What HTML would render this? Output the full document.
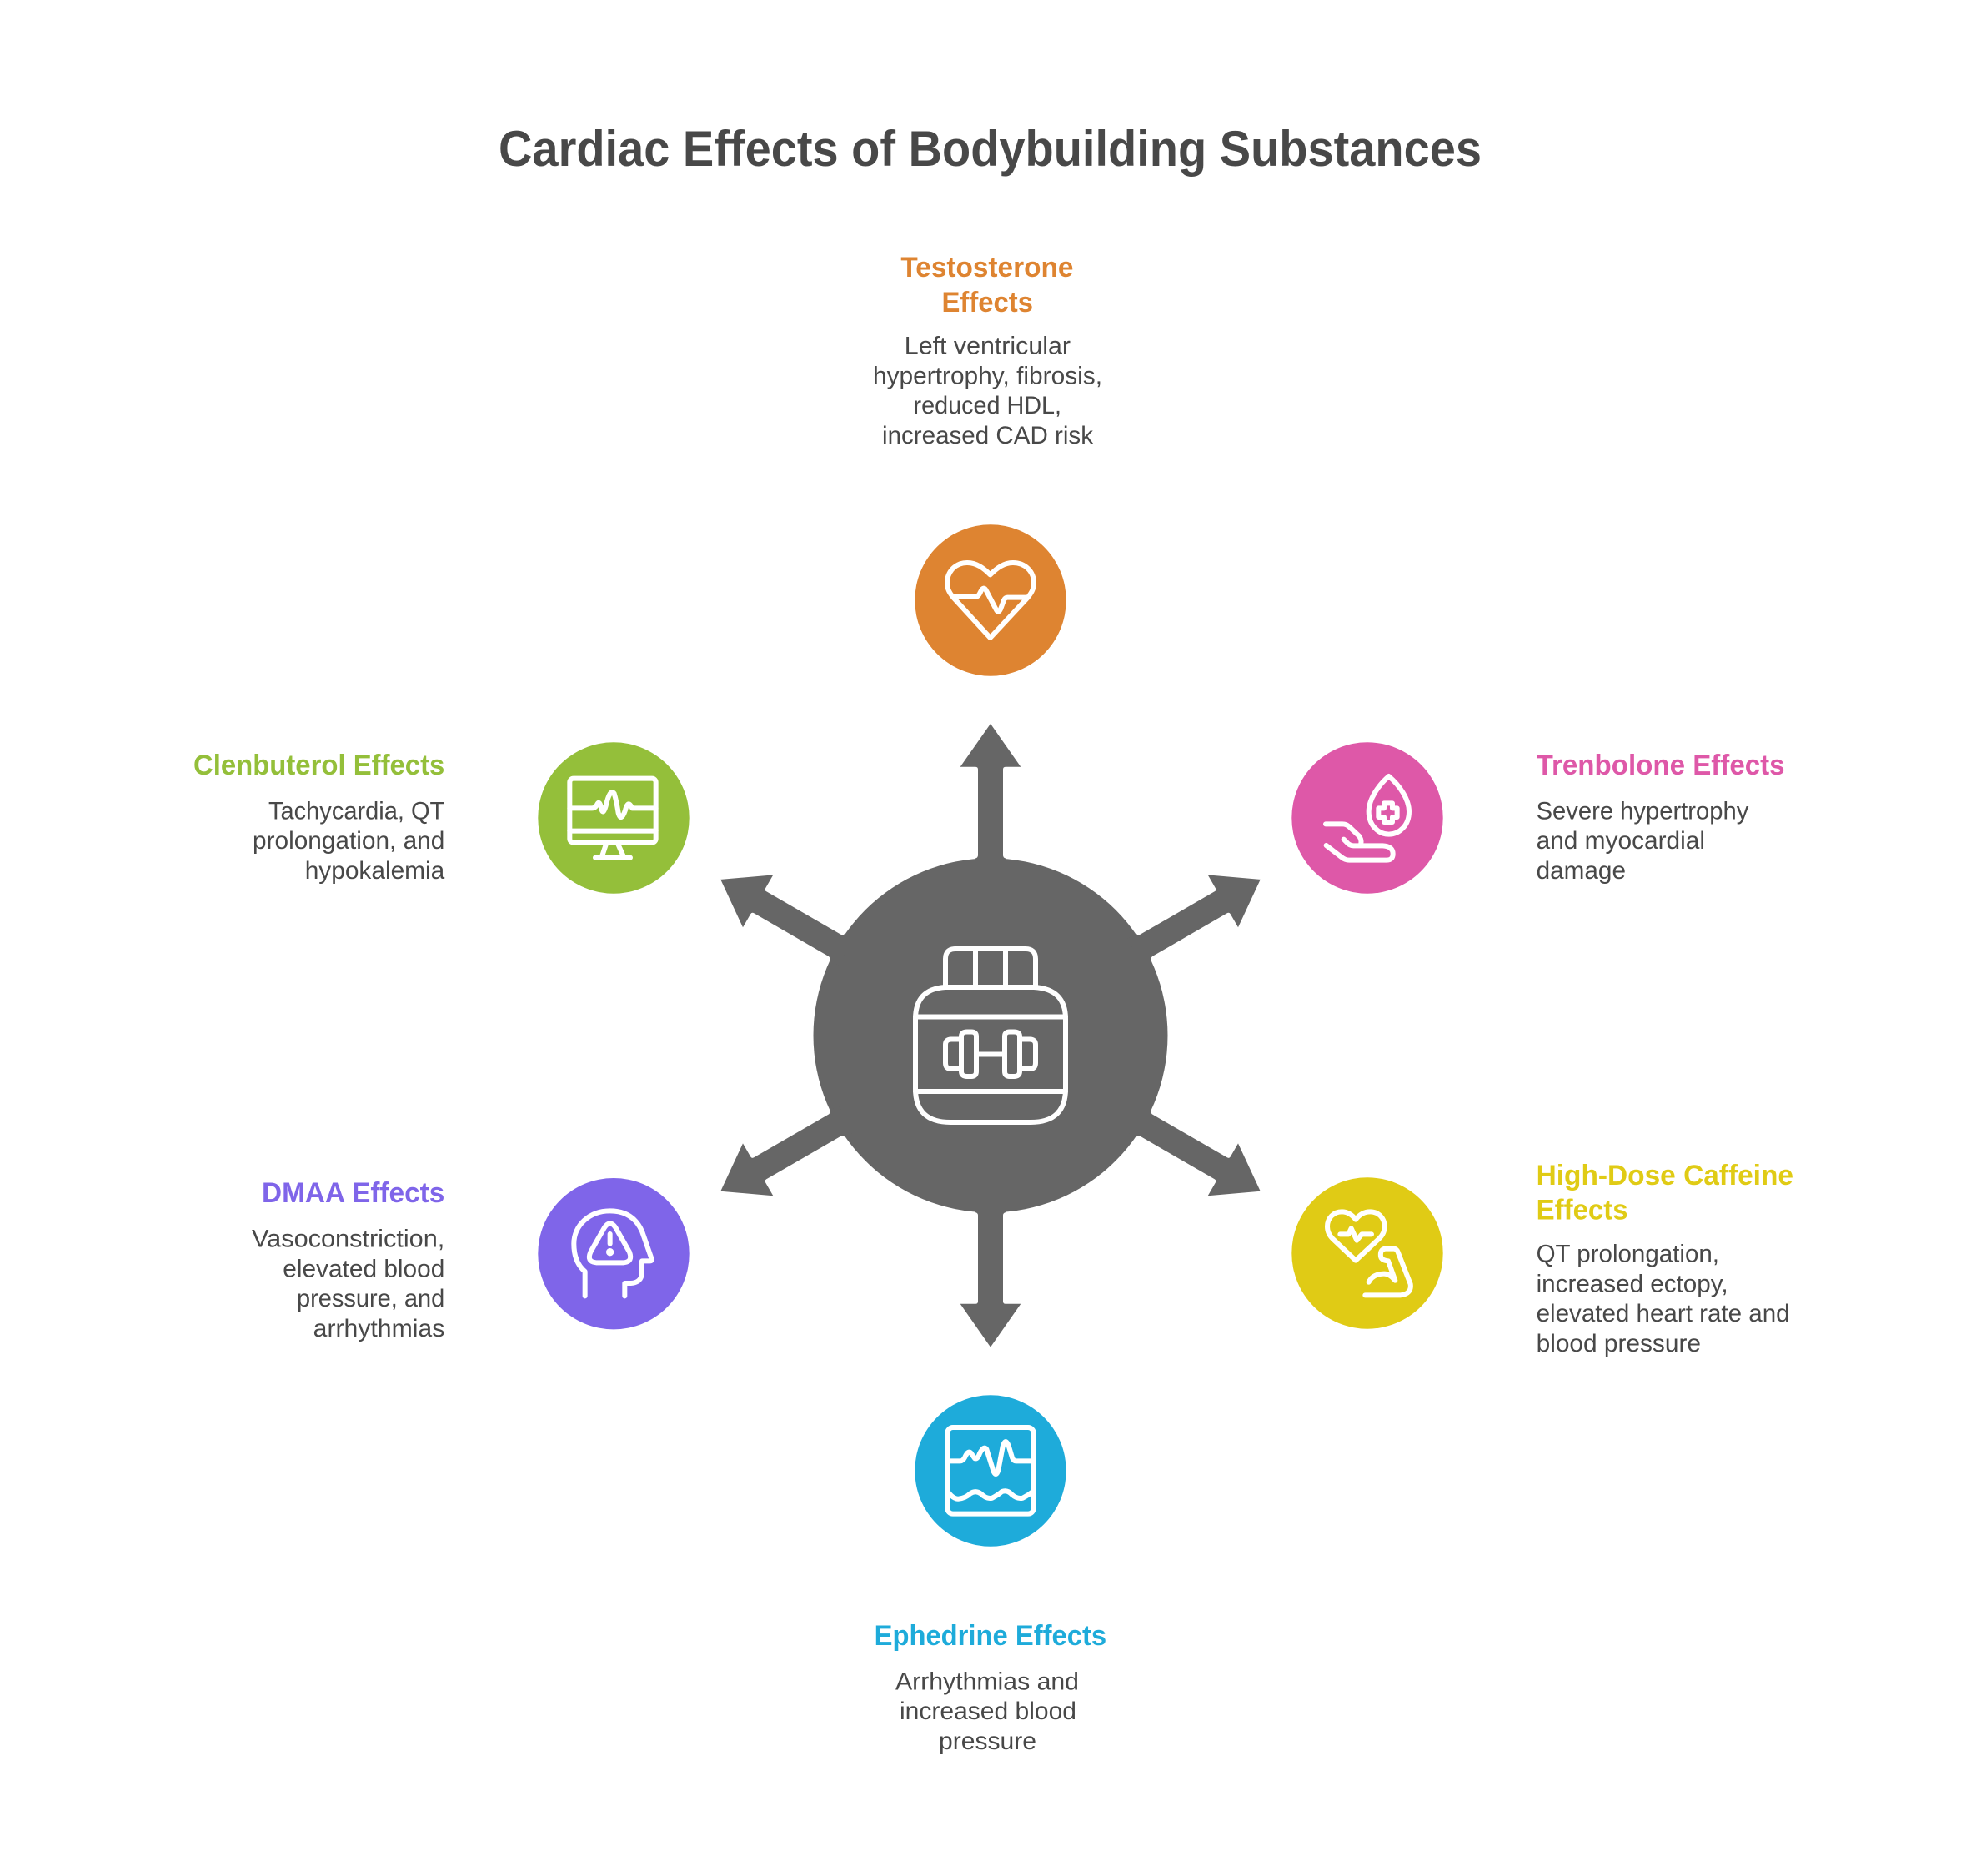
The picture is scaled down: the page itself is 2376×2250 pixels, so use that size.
<!DOCTYPE html>
<html lang="en">
<head>
<meta charset="utf-8">
<title>Cardiac Effects of Bodybuilding Substances</title>
<style>
html,body{margin:0;padding:0;background:#fff;width:2376px;height:2250px;overflow:hidden}
svg{display:block}
text{font-family:"Liberation Sans",sans-serif}
.t{font-size:60px;font-weight:700;fill:#484848}
.h{font-size:34px;font-weight:700}
.b{font-size:30px;fill:#484848}
.i{fill:none;stroke:#fff;stroke-width:18;stroke-linecap:round;stroke-linejoin:round}
.c{fill:none;stroke:#fff;stroke-width:6;stroke-linecap:round;stroke-linejoin:round}
</style>
</head>
<body>
<svg xmlns="http://www.w3.org/2000/svg" width="2376" height="2250" viewBox="0 0 2376 2250">
<rect width="2376" height="2250" fill="#fff"/>

<text class="t" x="598" y="199" textLength="1179" lengthAdjust="spacingAndGlyphs">Cardiac Effects of Bodybuilding Substances</text>

<!-- center hub -->
<g fill="#666666" transform="translate(1188 1241.8)">
<circle r="212.5"/>
<path d="M-36.3 -322H-18Q-15 -322 -15 -319V-216Q-15 -212.8 -18.5 -212.2L-18.5 -200H18.5L18.5 -212.2Q15 -212.8 15 -216V-319Q15 -322 18 -322H36.3L0 -373.8Z"/>
<path transform="rotate(60)" d="M-36.3 -322H-18Q-15 -322 -15 -319V-216Q-15 -212.8 -18.5 -212.2L-18.5 -200H18.5L18.5 -212.2Q15 -212.8 15 -216V-319Q15 -322 18 -322H36.3L0 -373.8Z"/>
<path transform="rotate(120)" d="M-36.3 -322H-18Q-15 -322 -15 -319V-216Q-15 -212.8 -18.5 -212.2L-18.5 -200H18.5L18.5 -212.2Q15 -212.8 15 -216V-319Q15 -322 18 -322H36.3L0 -373.8Z"/>
<path transform="rotate(180)" d="M-36.3 -322H-18Q-15 -322 -15 -319V-216Q-15 -212.8 -18.5 -212.2L-18.5 -200H18.5L18.5 -212.2Q15 -212.8 15 -216V-319Q15 -322 18 -322H36.3L0 -373.8Z"/>
<path transform="rotate(240)" d="M-36.3 -322H-18Q-15 -322 -15 -319V-216Q-15 -212.8 -18.5 -212.2L-18.5 -200H18.5L18.5 -212.2Q15 -212.8 15 -216V-319Q15 -322 18 -322H36.3L0 -373.8Z"/>
<path transform="rotate(300)" d="M-36.3 -322H-18Q-15 -322 -15 -319V-216Q-15 -212.8 -18.5 -212.2L-18.5 -200H18.5L18.5 -212.2Q15 -212.8 15 -216V-319Q15 -322 18 -322H36.3L0 -373.8Z"/>
</g>

<!-- jar icon -->
<g class="c">
<path d="M1134 1184H1240Q1278 1186 1278 1222V1306Q1278 1346 1236 1346H1140Q1098 1346 1098 1306V1222Q1098 1186 1134 1184Z"/>
<path d="M1134 1184V1150Q1134 1138 1146 1138H1230Q1242 1138 1242 1150V1184"/>
<path d="M1170 1138V1184M1206 1138V1184"/>
<path d="M1098 1219.5H1278M1098 1309H1278"/>
<path d="M1172 1264.5H1204"/>
<path d="M1153 1243Q1153 1237.5 1160 1237.5H1165Q1171 1237.5 1171 1243V1285Q1171 1291 1165 1291H1160Q1153 1291 1153 1285Z"/>
<path d="M1205 1243Q1205 1237.5 1211 1237.5H1216Q1223 1237.5 1223 1243V1285Q1223 1291 1216 1291H1211Q1205 1291 1205 1285Z"/>
<path d="M1153 1246.5H1141Q1134 1246.5 1134 1253V1275Q1134 1282 1141 1282H1153"/>
<path d="M1223 1246.5H1235Q1242 1246.5 1242 1253V1275Q1242 1282 1235 1282H1223"/>
</g>

<!-- nodes -->
<circle cx="1188" cy="720" r="90.7" fill="#DE8431"/>
<circle cx="736" cy="981" r="90.7" fill="#94BF3A"/>
<circle cx="1640" cy="981" r="90.7" fill="#DE58A8"/>
<circle cx="736" cy="1503.7" r="90.7" fill="#7F65E9"/>
<circle cx="1640" cy="1503" r="90.7" fill="#E0CB15"/>
<circle cx="1188" cy="1764" r="90.7" fill="#1EABDA"/>

<!-- orange heart -->
<g class="i" transform="translate(1080 610) scale(.3333)">
<path d="M323 465L190 320C178 305 168 290 168 268C168 225 200 195 240 195C275 195 300 215 323 238C346 215 371 195 405 195C447 195 480 225 480 268C480 290 470 305 458 320Z"/>
<path d="M190 318H270Q280 318 288 300Q300 275 310 298L345 365Q352 378 360 362L372 330Q376 320 385 320H450"/>
</g>
<!-- green monitor -->
<g class="i" transform="translate(620 870) scale(.3333)">
<rect x="190" y="191" width="310" height="231" rx="14"/>
<path d="M190 380H500"/>
<path d="M190 298H270Q283 298 290 282Q298 270 304 300Q310 325 320 290Q335 225 350 245Q358 270 365 315Q375 350 390 305Q400 265 415 298H500"/>
<path d="M320 430L305 475M365 430L385 475M282 476H408"/>
</g>
<!-- pink hand and drop -->
<g class="i" transform="translate(1530 870) scale(.3333)">
<path d="M407 183C370 215 335 265 335 310C335 360 370 392 407 392C445 392 480 360 480 310C480 265 445 215 407 183Z"/>
<path d="M390 280H420V298H437V330H420V348H390V330H370V298H390Z"/>
<path d="M180 355H240Q255 355 265 365L300 398Q312 415 305 432"/>
<path d="M245 410L262 427Q270 433 280 433H385Q422 435 422 462Q422 485 400 485H265Q250 485 238 475L182 432"/>
</g>
<!-- purple head -->
<g class="i" transform="translate(620 1395) scale(.3333)">
<path d="M245 478V390C215 365 205 330 205 290C205 225 260 172 335 172C395 172 430 200 450 245L485 345Q487 352 478 352H450V395Q448 430 410 432H388V478"/>
<path d="M335 217Q345 217 355 232L405 320Q418 355 385 358H285Q250 355 265 320L315 232Q325 217 335 217Z"/>
<path d="M335 255V290"/>
<circle cx="335" cy="320" r="5" fill="#fff"/>
</g>
<!-- yellow heart and arm -->
<g class="i" transform="translate(1530 1395) scale(.3333)">
<path d="M288 350L205 272C193 260 186 245 186 228C186 198 208 175 238 175C258 175 275 186 288 203C301 186 318 175 340 175C370 175 392 198 392 228C392 245 385 260 372 272Z"/>
<path d="M232 256H262L272 235L292 278L310 256H345"/>
<path d="M322 475H450Q490 470 485 435L440 320Q435 308 425 308H395Q375 310 378 335Q380 350 405 352L430 422"/>
<path d="M335 428Q350 398 390 398Q410 398 428 420"/>
</g>
<!-- blue chart -->
<g class="i" transform="translate(1080 1655) scale(.3333)">
<rect x="169" y="171" width="310" height="311" rx="20"/>
<path d="M169 292H215Q225 292 232 278Q245 250 255 265L268 283Q278 285 285 265Q300 235 310 250L335 330Q345 350 352 325L368 240Q378 205 390 240L402 280Q407 292 415 292H479"/>
<path d="M169 400Q190 430 210 428Q235 425 250 410Q270 395 290 410Q310 430 330 425Q350 415 365 402Q385 395 400 412Q420 430 440 425Q460 415 479 400"/>
</g>

<!-- Testosterone -->
<text class="h" fill="#DE8431" x="1080.4" y="332" textLength="207" lengthAdjust="spacingAndGlyphs">Testosterone</text>
<text class="h" fill="#DE8431" x="1129.5" y="374" textLength="109.5" lengthAdjust="spacingAndGlyphs">Effects</text>
<text class="b" x="1084.8" y="424.6" textLength="199.2" lengthAdjust="spacingAndGlyphs">Left ventricular</text>
<text class="b" x="1047" y="460.4" textLength="275" lengthAdjust="spacingAndGlyphs">hypertrophy, fibrosis,</text>
<text class="b" x="1095.5" y="496.2" textLength="177.5" lengthAdjust="spacingAndGlyphs">reduced HDL,</text>
<text class="b" x="1058" y="532" textLength="253" lengthAdjust="spacingAndGlyphs">increased CAD risk</text>

<!-- Clenbuterol -->
<text class="h" fill="#94BF3A" x="232" y="929" textLength="301.3" lengthAdjust="spacingAndGlyphs">Clenbuterol Effects</text>
<text class="b" x="322" y="982.4" textLength="211.3" lengthAdjust="spacingAndGlyphs">Tachycardia, QT</text>
<text class="b" x="303" y="1018.2" textLength="230.3" lengthAdjust="spacingAndGlyphs">prolongation, and</text>
<text class="b" x="365.7" y="1054" textLength="167.6" lengthAdjust="spacingAndGlyphs">hypokalemia</text>

<!-- DMAA -->
<text class="h" fill="#7F65E9" x="314" y="1442" textLength="219.3" lengthAdjust="spacingAndGlyphs">DMAA Effects</text>
<text class="b" x="302" y="1495.6" textLength="231.3" lengthAdjust="spacingAndGlyphs">Vasoconstriction,</text>
<text class="b" x="339.3" y="1531.4" textLength="194" lengthAdjust="spacingAndGlyphs">elevated blood</text>
<text class="b" x="356" y="1567.2" textLength="177.3" lengthAdjust="spacingAndGlyphs">pressure, and</text>
<text class="b" x="375.7" y="1603" textLength="157.6" lengthAdjust="spacingAndGlyphs">arrhythmias</text>

<!-- Trenbolone -->
<text class="h" fill="#DE58A8" x="1842.6" y="929" textLength="298" lengthAdjust="spacingAndGlyphs">Trenbolone Effects</text>
<text class="b" x="1842.6" y="982.4" textLength="254.7" lengthAdjust="spacingAndGlyphs">Severe hypertrophy</text>
<text class="b" x="1842.6" y="1018.2" textLength="202.4" lengthAdjust="spacingAndGlyphs">and myocardial</text>
<text class="b" x="1842.6" y="1054" textLength="107.4" lengthAdjust="spacingAndGlyphs">damage</text>

<!-- Caffeine -->
<text class="h" fill="#E0CB15" x="1842.6" y="1421" textLength="308.4" lengthAdjust="spacingAndGlyphs">High-Dose Caffeine</text>
<text class="h" fill="#E0CB15" x="1842.6" y="1462.4" textLength="110" lengthAdjust="spacingAndGlyphs">Effects</text>
<text class="b" x="1842.6" y="1513.6" textLength="219.4" lengthAdjust="spacingAndGlyphs">QT prolongation,</text>
<text class="b" x="1842.6" y="1549.4" textLength="230" lengthAdjust="spacingAndGlyphs">increased ectopy,</text>
<text class="b" x="1842.6" y="1585.2" textLength="304" lengthAdjust="spacingAndGlyphs">elevated heart rate and</text>
<text class="b" x="1842.6" y="1621" textLength="197.4" lengthAdjust="spacingAndGlyphs">blood pressure</text>

<!-- Ephedrine -->
<text class="h" fill="#1EABDA" x="1048.6" y="1973" textLength="278.5" lengthAdjust="spacingAndGlyphs">Ephedrine Effects</text>
<text class="b" x="1074" y="2026.4" textLength="220" lengthAdjust="spacingAndGlyphs">Arrhythmias and</text>
<text class="b" x="1079" y="2062.2" textLength="212" lengthAdjust="spacingAndGlyphs">increased blood</text>
<text class="b" x="1126" y="2098" textLength="117" lengthAdjust="spacingAndGlyphs">pressure</text>
</svg>
</body>
</html>
